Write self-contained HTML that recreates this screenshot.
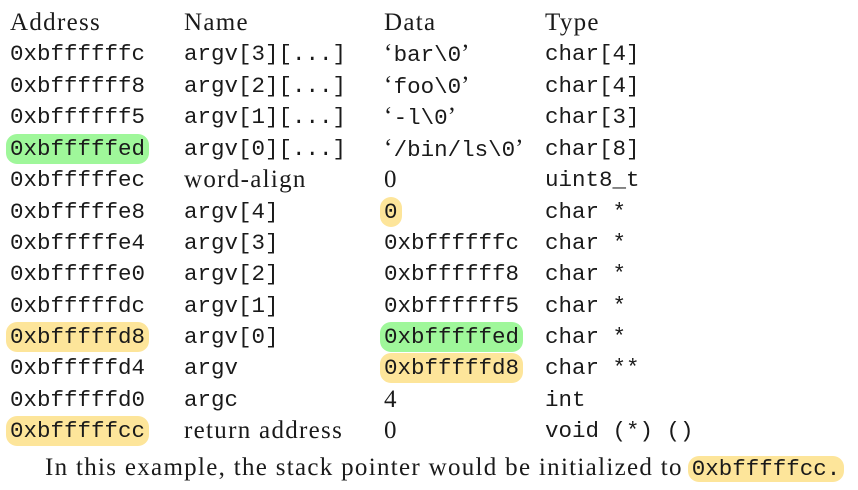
<!DOCTYPE html>
<html><head><meta charset="utf-8"><style>
html,body{margin:0;padding:0;background:#fff;width:858px;height:490px;overflow:hidden}
body{position:relative;color:#1a1a1a}
.r{position:absolute;left:0;height:30px;line-height:30px;width:858px}
.c{position:absolute;top:0;white-space:nowrap}
.s{font-family:"Liberation Serif",serif;font-size:25px;letter-spacing:1.3px}
.m{font-family:"Liberation Mono",monospace;font-size:22.5px;letter-spacing:0}
.a{left:10px}.n{left:184px}.d{left:384px}.t{left:545px}
.g,.y{border-radius:11px;padding:0 4px;margin-left:-4px}
.g{background:#9ff79a}.y{background:#fde59a}
</style></head><body>
<div class="r" style="top:8px"><span class="c a s">Address</span><span class="c n s">Name</span><span class="c d s">Data</span><span class="c t s">Type</span></div>
<div class="r" style="top:39px"><span class="c a m">0xbffffffc</span><span class="c n m">argv[3][...]</span><span class="c d"><span class="s">‘</span><span class="m">bar\0</span><span class="s">’</span></span><span class="c t m">char[4]</span></div>
<div class="r" style="top:71px"><span class="c a m">0xbffffff8</span><span class="c n m">argv[2][...]</span><span class="c d"><span class="s">‘</span><span class="m">foo\0</span><span class="s">’</span></span><span class="c t m">char[4]</span></div>
<div class="r" style="top:102px"><span class="c a m">0xbffffff5</span><span class="c n m">argv[1][...]</span><span class="c d"><span class="s">‘</span><span class="m">-l\0</span><span class="s">’</span></span><span class="c t m">char[3]</span></div>
<div class="r" style="top:134px"><span class="c a m g">0xbfffffed</span><span class="c n m">argv[0][...]</span><span class="c d"><span class="s">‘</span><span class="m">/bin/ls\0</span><span class="s">’</span></span><span class="c t m">char[8]</span></div>
<div class="r" style="top:165px"><span class="c a m">0xbfffffec</span><span class="c n s">word-align</span><span class="c d s">0</span><span class="c t m">uint8_t</span></div>
<div class="r" style="top:197px"><span class="c a m">0xbfffffe8</span><span class="c n m">argv[4]</span><span class="c d m y">0</span><span class="c t m">char *</span></div>
<div class="r" style="top:228px"><span class="c a m">0xbfffffe4</span><span class="c n m">argv[3]</span><span class="c d m">0xbffffffc</span><span class="c t m">char *</span></div>
<div class="r" style="top:259px"><span class="c a m">0xbfffffe0</span><span class="c n m">argv[2]</span><span class="c d m">0xbffffff8</span><span class="c t m">char *</span></div>
<div class="r" style="top:291px"><span class="c a m">0xbfffffdc</span><span class="c n m">argv[1]</span><span class="c d m">0xbffffff5</span><span class="c t m">char *</span></div>
<div class="r" style="top:322px"><span class="c a m y">0xbfffffd8</span><span class="c n m">argv[0]</span><span class="c d m g">0xbfffffed</span><span class="c t m">char *</span></div>
<div class="r" style="top:353px"><span class="c a m">0xbfffffd4</span><span class="c n m">argv</span><span class="c d m y">0xbfffffd8</span><span class="c t m">char **</span></div>
<div class="r" style="top:385px"><span class="c a m">0xbfffffd0</span><span class="c n m">argc</span><span class="c d s">4</span><span class="c t m">int</span></div>
<div class="r" style="top:416px"><span class="c a m y">0xbfffffcc</span><span class="c n s">return address</span><span class="c d s">0</span><span class="c t m">void (*) ()</span></div>
<div class="r" style="top:453px"><span class="c s" style="left:45px">In this example, the stack pointer would be initialized to<span class="m y" style="margin-left:5px">0xbfffffcc.</span></span></div>
</body></html>
